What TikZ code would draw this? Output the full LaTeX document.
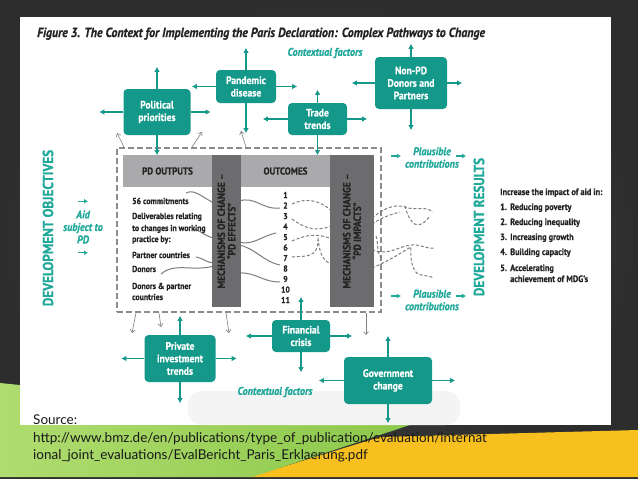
\documentclass[tikz,border=0pt]{standalone}
\usepackage{fontspec}
\newfontfamily\cond{PT Sans}[FakeStretch=0.9,BoldFeatures={FakeBold=0.6},BoldItalicFeatures={FakeBold=0.6}]
\newfontfamily\srcfont{Lato}
\usepackage{tikz}
\usetikzlibrary{arrows.meta,positioning}
\definecolor{tealbox}{RGB}{20,152,138}
\definecolor{tealtxt}{RGB}{32,168,155}
\definecolor{hdrgray}{RGB}{170,170,172}
\definecolor{bargray}{RGB}{108,108,110}
\definecolor{ink}{RGB}{35,35,35}
\definecolor{wavegray}{RGB}{125,125,125}
\definecolor{framegray}{RGB}{140,140,140}
\definecolor{bgin}{RGB}{82,82,82}
\definecolor{bgout}{RGB}{45,45,45}
\definecolor{leafgreen}{RGB}{140,200,75}
\definecolor{lightgreen}{RGB}{175,220,110}
\definecolor{sunyellow}{RGB}{247,192,30}

\begin{document}
\begin{tikzpicture}[x=1pt,y=-1pt,
    box/.style={fill=tealbox,rounded corners=4pt,text=white,align=center,inner sep=1pt,font=\cond\bfseries\fontsize{10.7}{12.5}\selectfont},
    tarr/.style={draw=tealbox,line width=1.4pt,-{Latex[length=5pt,width=5.5pt]}},
    tsmall/.style={draw=tealtxt,line width=1.2pt,-{Latex[length=4pt,width=5pt]}},
    garr/.style={draw=gray,line width=0.6pt,-{Straight Barb[length=3pt,width=5pt]}},
    hdr/.style={fill=hdrgray,text=ink,inner sep=0,font=\cond\bfseries\fontsize{10}{10}\selectfont},
    mech/.style={fill=bargray,text=ink,align=center,rotate=90,inner sep=0,font=\cond\bfseries\fontsize{10.5}{10.5}\selectfont},
    item/.style={anchor=base west,inner sep=0,text=ink,font=\cond\bfseries\fontsize{8.7}{10}\selectfont},
    ctx/.style={text=tealtxt,align=center,inner sep=0,font=\cond\bfseries\itshape\fontsize{11.2}{12.5}\selectfont},
    side/.style={text=tealtxt,rotate=90,inner sep=0,font=\cond\bfseries\fontsize{14.6}{15}\selectfont},
    wave/.style={draw=wavegray,line width=1pt},
    dwave/.style={wave,dash pattern=on 3pt off 2pt},
    src/.style={anchor=base west,inner sep=0,text=black!90,font=\srcfont\fontsize{13.5}{16}\selectfont}
  ]
  \useasboundingbox (0,0) rectangle (638,479);

  % slide
  \shade[inner color=bgin,outer color=bgout] (0,0) rectangle (638,479);
  \fill[sunyellow] (380,437) -- (638,430) -- (638,477) -- (250,477) -- cycle;
  \shade[left color=lightgreen,right color=leafgreen] (0,383) -- (410,425) -- (252,477) -- (0,477) -- cycle;
  \fill[white] (20,17) rectangle (611,425);
  \fill[gray!9,rounded corners=15pt] (188,391) rectangle (460,425);

  \node[anchor=base west,inner sep=0,text=ink,font=\cond\bfseries\itshape\fontsize{13.2}{14}\selectfont] (title) at (37,37)
    {Figure 3. The Context for Implementing the Paris Declaration: Complex Pathways to Change};

  % pathways frame
  \node[draw=framegray,line width=2pt,dash pattern=on 6pt off 3pt,minimum width=264,minimum height=164] (frame) at (249,230) {};

  % solid pathways
  \draw[wave] (186,193) .. controls (195,189) and (200,196) .. (214,203);
  \draw[wave] (194,229) .. controls (200,230) and (204,236) .. (214,238);
  \draw[wave] (196,257) .. controls (203,258) and (207,263) .. (214,263);
  \draw[wave] (161,274) .. controls (175,262) and (192,272) .. (214,266);
  \draw[wave] (239,201) .. controls (256,196) and (262,210) .. (280,208);
  \draw[wave] (239,242) .. controls (252,246) and (262,236) .. (276,233);
  \draw[wave] (239,245) .. controls (255,248) and (264,262) .. (280,265);
  \draw[wave] (239,273) .. controls (256,272) and (262,282) .. (280,282);
  % dashed pathways
  \draw[dwave] (292,204) .. controls (305,198) and (318,199) .. (332,211);
  \draw[dwave] (292,219) .. controls (302,226) and (312,233) .. (332,226);
  \draw[dwave] (292,241) .. controls (304,236) and (314,232) .. (332,239);
  \draw[dwave] (292,257) .. controls (306,256) and (318,258) .. (318,240);
  \draw[dwave] (318,238) .. controls (319,250) and (322,262) .. (332,264);
  \draw[dwave] (372,218) .. controls (388,205) and (398,204) .. (408,208) .. controls (418,210) and (425,206) .. (433,212);
  \draw[dwave] (405,206) .. controls (410,225) and (418,232) .. (430,216);
  \draw[dwave] (372,224) .. controls (386,215) and (394,214) .. (400,212);
  \draw[dwave] (372,250) .. controls (390,256) and (398,246) .. (412,245) .. controls (420,244) and (426,249) .. (434,248);
  \draw[dwave] (372,268) .. controls (395,258) and (405,250) .. (411,247) .. controls (410,258) and (412,270) .. (418,274) .. controls (424,276) and (430,276) .. (434,278);
  \draw[dwave] (376,236) .. controls (379,245) and (376,250) .. (381,258);

  % headers and mechanism bars
  \node[hdr,minimum width=89,minimum height=32] (outputs) at (167.5,171) {PD OUTPUTS};
  \node[hdr,minimum width=89,minimum height=32] (outcomes) at (285.5,171) {OUTCOMES};
  \node[mech,minimum width=152,minimum height=29] (effects) at (226.5,231) {MECHANISMS OF CHANGE –\\“PD EFFECTS”};
  \node[mech,minimum width=152,minimum height=44] (impacts) at (352,231) {MECHANISMS OF CHANGE –\\“PD IMPACTS”};

  \node[item] (c56) at (132,204) {56 commitments};
  \node[item] (deliv) at (132,219) {Deliverables relating};
  \node[item] (deliv2) at (132,231) {to changes in working};
  \node[item] (deliv3) at (132,242) {practice by:};
  \node[item] (partner) at (132,258) {Partner countries};
  \node[item] (donors) at (132,272) {Donors};
  \node[item] (both) at (132,289) {Donors \& partner};
  \node[item] (both2) at (132,300) {countries};
  \foreach \n in {1,...,11}
    \node[anchor=base,inner sep=0,text=ink,font=\cond\bfseries\fontsize{8.5}{10}\selectfont] (o\n) at (285.5,187.5+10.5*\n) {\n};

  % gray arrows leaving the frame
  \draw[garr] ([xshift=8pt]frame.north west) -- ++(-7,-14);
  \draw[garr] ([xshift=76pt]frame.north west) -- ++(10,-15);
  \draw[garr] ([xshift=130pt]frame.north west) -- ++(-5,-16);
  \draw[garr] ([xshift=20pt]frame.south west) -- ++(-4,20);
  \draw[garr] ([xshift=43pt]frame.south west) -- ++(2,14);
  \draw[garr] ([xshift=110pt]frame.south west) -- ++(3,20);
  \draw[garr] ([xshift=250pt]frame.south west) -- ++(0,22);

  % contextual factors
  \node[box,minimum width=67,minimum height=46] (pol) at (157,112) {Political\\priorities};
  \node[box,minimum width=60,minimum height=33] (pan) at (246,86.5) {Pandemic\\disease};
  \node[box,minimum width=59,minimum height=32] (trade) at (317.5,119) {Trade\\trends};
  \node[box,minimum width=72,minimum height=52] (nonpd) at (411,83) {Non-PD\\Donors and\\Partners};
  \node[box,minimum width=71,minimum height=47] (priv) at (180,358.5) {Private\\investment\\trends};
  \node[box,minimum width=58,minimum height=32] (fin) at (301,336) {Financial\\crisis};
  \node[box,minimum width=88,minimum height=47] (gov) at (388,380.5) {Government\\change};

  \draw[tarr] (pol.north) -- ++(0,-22);
  \draw[tarr] (pol.west) -- ++(-24,0);
  \draw[tarr] (pol.east) -- ++(20,0);
  \draw[tarr] (pol.south) -- ++(0,20);
  \draw[tarr] (pan.north) -- ++(0,-22);
  \draw[tarr] (pan.west) -- ++(-24,0);
  \draw[tarr] (pan.east) -- ++(21,0);
  \draw[tarr] (pan.south) -- ++(0,30);
  \draw[tarr] (trade.north) -- ++(0,-13);
  \draw[tarr] (trade.west) -- ++(-25,0);
  \draw[tarr] (trade.east) -- ++(20,0);
  \draw[tarr] (trade.south) -- ++(0,20);
  \draw[tarr] (nonpd.north) -- ++(0,-13);
  \draw[tarr] (nonpd.west) -- ++(-23,0);
  \draw[tarr] (nonpd.east) -- ++(15,0);
  \draw[tarr] (nonpd.south) -- ++(0,21);
  \draw[tarr] (priv.north) -- ++(0,-19);
  \draw[tarr] (priv.west) -- ++(-23,0);
  \draw[tarr] (priv.east) -- ++(21,0);
  \draw[tarr] (priv.south) -- ++(0,21);
  \draw[tarr] (fin.north) -- ++(0,-23);
  \draw[tarr] (fin.west) -- ++(-26,0);
  \draw[tarr] (fin.east) -- ++(22,0);
  \draw[tarr] (fin.south) -- ++(0,20);
  \draw[tarr] (gov.north) -- ++(0,-21);
  \draw[tarr] (gov.west) -- ++(-25,0);
  \draw[tarr] (gov.east) -- ++(23,0);
  \draw[tarr] (gov.south) -- ++(0,19);

  \node[ctx] (ctxtop) at (325,53) {Contextual factors};
  \node[ctx] (ctxbot) at (275,392) {Contextual factors};

  % left and right sides
  \node[side] (devobj) at (48,228) {DEVELOPMENT OBJECTIVES};
  \node[ctx] (aid) at (83,227) {Aid\\subject to\\PD};
  \draw[tsmall] ([shift={(-5,-9)}]aid.north) -- ++(10,0);
  \draw[tsmall] ([shift={(-5,9)}]aid.south) -- ++(10,0);

  \node[ctx] (plaus1) at (432,157.5) {Plausible\\contributions};
  \node[ctx] (plaus2) at (432,300) {Plausible\\contributions};
  \draw[tsmall] ([shift={(-14,-1.5)}]plaus1.west) -- ++(10,0);
  \draw[tsmall] ([shift={(-3,-1.5)}]plaus1.east) -- ++(10,0);
  \draw[tsmall] ([shift={(-14,-4)}]plaus2.west) -- ++(10,0);
  \draw[tsmall] ([shift={(-3,-4)}]plaus2.east) -- ++(10,0);

  \node[side] (devres) at (479,227) {DEVELOPMENT RESULTS};

  \node[item,font=\cond\bfseries\fontsize{9.2}{10}\selectfont] (impact) at (500,195) {Increase the impact of aid in:};
  \foreach \n/\t/\y in {1/Reducing poverty/210,2/Reducing inequality/225,3/Increasing growth/240,4/Building capacity/255,5/Accelerating/271}{
    \node[item,font=\cond\bfseries\fontsize{9.2}{10}\selectfont] (num\n) at (500,\y) {\n.};
    \node[item,font=\cond\bfseries\fontsize{9.2}{10}\selectfont] (res\n) at (510,\y) {\t};
  }
  \node[item,font=\cond\bfseries\fontsize{9.2}{10}\selectfont] (res5b) at (510,282) {achievement of MDG’s};

  % source
  \node[src] (source) at (33,424) {Source:};
  \node[src] (url1) at (33,442) {http://www.bmz.de/en/publications/type\_of\_publication/evaluation/internat};
  \node[src] (url2) at (33,459) {ional\_joint\_evaluations/EvalBericht\_Paris\_Erklaerung.pdf};
\end{tikzpicture}
\end{document}
